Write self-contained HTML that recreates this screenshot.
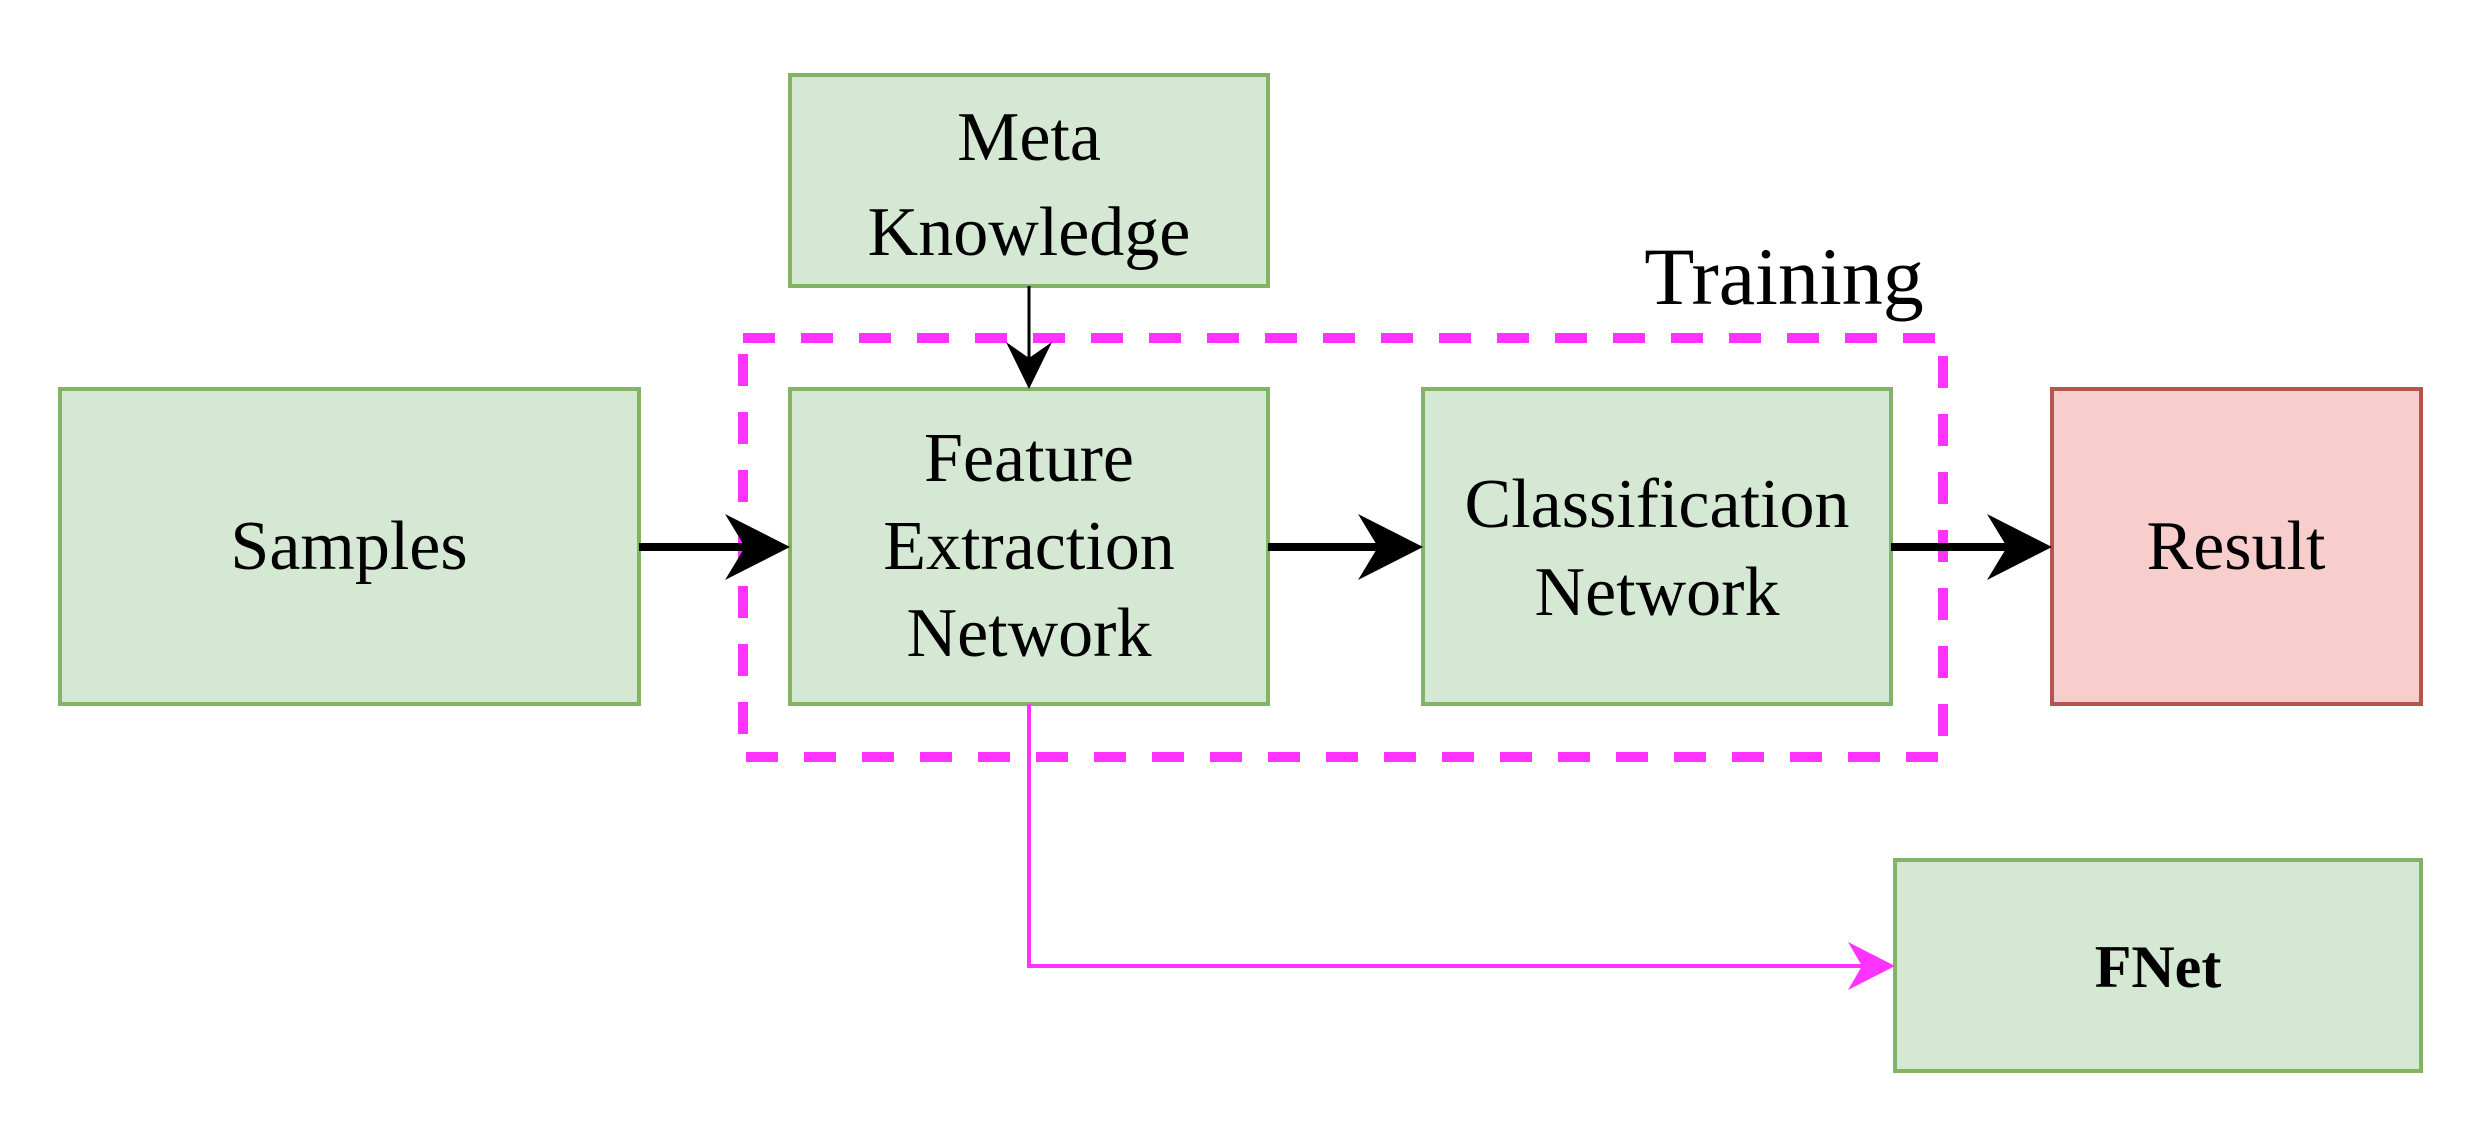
<!DOCTYPE html>
<html><head><meta charset="utf-8"><style>html,body{margin:0;padding:0;background:#fff;}svg{display:block}</style></head>
<body>
<svg width="2492" height="1130" viewBox="0 0 2492 1130" xmlns="http://www.w3.org/2000/svg" font-family="Liberation Serif, serif" fill="#000">
<rect x="0" y="0" width="2492" height="1130" fill="#fff"/>
<rect x="743" y="338" width="1200" height="419" fill="none" stroke="#ff33ff" stroke-width="10" stroke-dasharray="32,26"/>
<text x="1784" y="304" font-size="82" text-anchor="middle">Training</text>
<g stroke="#82b366" stroke-width="4" fill="#d5e8d4">
<rect x="790" y="75" width="478" height="211"/>
<rect x="60" y="389" width="579" height="315"/>
<rect x="790" y="389" width="478" height="315"/>
<rect x="1423" y="389" width="468" height="315"/>
<rect x="1895" y="860" width="526" height="211"/>
</g>
<rect x="2052" y="389" width="369" height="315" fill="#f8cecc" stroke="#b85450" stroke-width="4"/>
<g font-size="70" text-anchor="middle">
<text x="1029" y="160">Meta</text>
<text x="1029" y="255">Knowledge</text>
<text x="349" y="569">Samples</text>
<text x="1029" y="481">Feature</text>
<text x="1029" y="569">Extraction</text>
<text x="1029" y="656">Network</text>
<text x="1657" y="527">Classification</text>
<text x="1657" y="615">Network</text>
<text x="2236" y="569">Result</text>
</g>
<text x="2158" y="987" font-size="60" font-weight="bold" text-anchor="middle">FNet</text>
<g stroke="#000" stroke-width="8">
<line x1="639" y1="547" x2="760" y2="547"/>
<line x1="1268" y1="547" x2="1393" y2="547"/>
<line x1="1891" y1="547" x2="2022" y2="547"/>
</g>
<polygon points="725,514 790,547 725,580 745,547"/>
<polygon points="1358,514 1423,547 1358,580 1378,547"/>
<polygon points="1987,514 2052,547 1987,580 2007,547"/>
<line x1="1029" y1="286" x2="1029" y2="370" stroke="#000" stroke-width="3"/>
<polygon points="1006,342 1029,389 1052,342 1029,358"/>
<polyline points="1029,704 1029,966 1870,966" fill="none" stroke="#ff33ff" stroke-width="4"/>
<polygon points="1848,942 1895,966 1848,990 1862,966" fill="#ff33ff"/>
</svg>
</body></html>
